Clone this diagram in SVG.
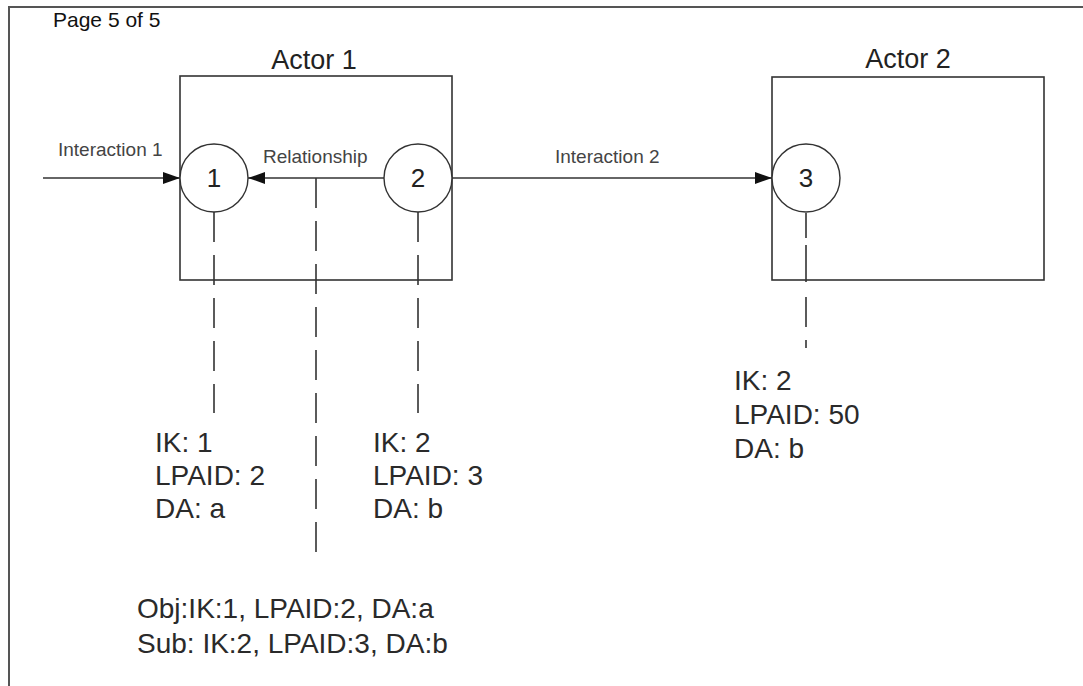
<svg xmlns="http://www.w3.org/2000/svg" width="1083" height="686" viewBox="0 0 1083 686">
  <style>
    .frame { fill: none; stroke: #555; stroke-width: 2; }
    .box { fill: none; stroke: #333; stroke-width: 1.6; }
    .circ { fill: #fff; stroke: #333; stroke-width: 1.4; }
    .conn { fill: none; stroke: #333; stroke-width: 1.6; }
    .dash { fill: none; stroke: #333; stroke-width: 1.6; stroke-dasharray: 30 13; }
    .title { font-family: "Liberation Sans", Arial, sans-serif; font-size: 27px; fill: #222; text-anchor: middle; }
    .num { font-family: "Liberation Sans", Arial, sans-serif; font-size: 26px; fill: #222; text-anchor: middle; }
    .lbl { font-family: "Liberation Sans", Arial, sans-serif; font-size: 19px; fill: #444; }
    .info { font-family: "Liberation Sans", Arial, sans-serif; font-size: 28px; fill: #2a2a2a; }
    .page { font-family: "Liberation Sans", Arial, sans-serif; font-size: 21px; fill: #111; }
  </style>
  <defs>
    <marker id="arrow" viewBox="0 0 17 12" refX="17" refY="6" markerWidth="17" markerHeight="12" markerUnits="userSpaceOnUse" orient="auto">
      <path d="M0,0 L17,6 L0,12 z" fill="#111"/>
    </marker>
  </defs>
  <rect width="1083" height="686" fill="#fff"/>
  <g id="page-frame">
    <path class="frame" d="M9,687 L9,7 L1084,7"/>
    <text class="page" x="53" y="27">Page 5 of 5</text>
  </g>

  <g id="actor1">
    <rect class="box" x="180" y="76" width="272" height="204"/>
    <text class="title" x="314" y="69">Actor 1</text>
  </g>
  <g id="actor2">
    <rect class="box" x="772" y="77" width="272" height="203"/>
    <text class="title" x="908" y="68">Actor 2</text>
  </g>

  <g id="connectors">
    <line class="dash" x1="214" y1="212" x2="214" y2="413"/>
    <line class="dash" x1="418" y1="212" x2="418" y2="413"/>
    <line class="dash" x1="316" y1="178" x2="316" y2="553"/>
    <line class="conn" x1="806" y1="213" x2="806" y2="348" style="stroke-dasharray: 25 7 37 15 30 13 8 100"/>
    <line class="conn" x1="43" y1="178" x2="180" y2="178" marker-end="url(#arrow)"/>
    <line class="conn" x1="384" y1="178" x2="248" y2="178" marker-end="url(#arrow)"/>
    <line class="conn" x1="452" y1="178" x2="772" y2="178" marker-end="url(#arrow)"/>
    <text class="lbl" x="58" y="156">Interaction 1</text>
    <text class="lbl" x="263" y="163">Relationship</text>
    <text class="lbl" x="555" y="163">Interaction 2</text>
  </g>

  <g id="node1">
    <circle class="circ" cx="214" cy="178" r="34"/>
    <text class="num" x="214" y="187">1</text>
  </g>
  <g id="node2">
    <circle class="circ" cx="418" cy="178" r="34"/>
    <text class="num" x="418" y="187">2</text>
  </g>
  <g id="node3">
    <circle class="circ" cx="806" cy="178" r="34"/>
    <text class="num" x="806" y="187">3</text>
  </g>

  <g id="info1">
    <text class="info" x="155" y="452">IK: 1</text>
    <text class="info" x="155" y="485">LPAID: 2</text>
    <text class="info" x="155" y="518">DA: a</text>
  </g>
  <g id="info2">
    <text class="info" x="373" y="452">IK: 2</text>
    <text class="info" x="373" y="485">LPAID: 3</text>
    <text class="info" x="373" y="518">DA: b</text>
  </g>
  <g id="info3">
    <text class="info" x="734" y="390">IK: 2</text>
    <text class="info" x="734" y="424">LPAID: 50</text>
    <text class="info" x="734" y="458">DA: b</text>
  </g>
  <g id="relationship-info">
    <text class="info" x="137" y="618">Obj:IK:1, LPAID:2, DA:a</text>
    <text class="info" x="137" y="653">Sub: IK:2, LPAID:3, DA:b</text>
  </g>
</svg>
